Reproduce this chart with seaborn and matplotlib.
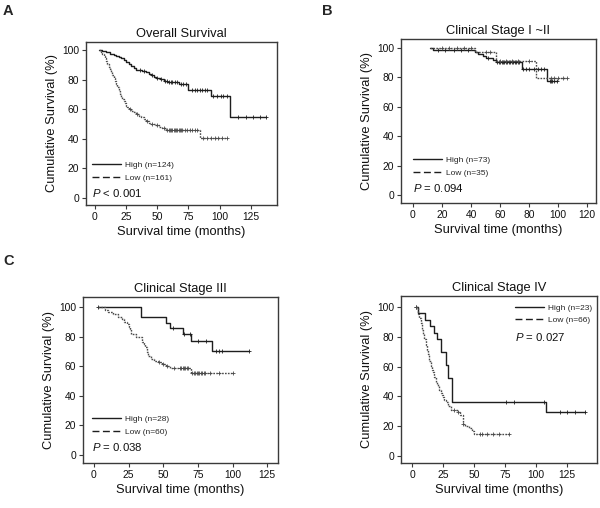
import numpy as np
import matplotlib
matplotlib.use("Agg")
import matplotlib.pyplot as plt
import seaborn as sns
from matplotlib.lines import Line2D

sns.set_style("ticks")
plt.rcParams['font.family'] = ['Liberation Sans', 'DejaVu Sans']
plt.rcParams['mathtext.fontset'] = 'custom'
plt.rcParams['mathtext.it'] = 'Liberation Sans:italic'
plt.rcParams['mathtext.rm'] = 'Liberation Sans'

# ---------------- data ----------------
# Panel A: Overall survival
A_high_t = [3, 6, 9, 12, 15, 17, 19, 21, 23, 25, 27, 29, 31, 33, 38, 41, 43, 45, 47, 49, 52, 55, 58, 67, 75, 93, 108]
A_high_s = [100, 99.2, 98.4, 97.6, 96.8, 96.0, 95.2, 94.3, 93.5, 92.0, 90.5, 89.0, 87.6, 86.5, 85.7, 84.8, 83.9, 82.9,
            81.9, 81.0, 80.1, 79.2, 78.3, 77.3, 73.0, 68.6, 55.0]
A_high_end = 137
A_high_cens = [36, 39, 46, 50, 53, 56, 57.5, 59, 61, 62, 64, 66, 69, 71, 73, 78, 80, 82, 84, 86, 88, 90, 95, 98, 101,
               103, 106, 115, 121, 127, 132, 137]
A_low_t = [3, 5, 6, 7, 8, 9, 10, 11, 12, 13, 14, 15, 16, 17, 18, 19, 20, 21, 22, 23, 24, 25, 26, 27, 29, 31, 33, 35,
           37, 39, 41, 43, 45, 48, 51, 54, 57, 84]
A_low_s = [100, 98.8, 97.5, 96.0, 94.4, 92.5, 90.6, 88.8, 86.9, 85.0, 83.0, 81.0, 79.0, 77.0, 75.0, 72.5, 70.5, 68.5,
           67.0, 65.5, 64.0, 62.5, 61.2, 60.0, 59.0, 58.0, 57.0, 55.7, 54.5, 53.3, 52.2, 51.0, 50.0, 49.0, 48.0, 47.0,
           46.0, 40.5]
A_low_end = 106
A_low_cens = [28, 34, 42, 46, 50, 55, 58, 59, 60, 61, 62, 63, 64, 65, 66, 67, 68, 69, 70, 72, 74, 76, 78, 80, 82, 87,
              90, 93, 96, 99, 102, 106]

# Panel B: Clinical stage I-II
B_high_t = [12, 14, 43, 45, 48, 50, 55, 57, 75, 92]
B_high_s = [100, 98.6, 97.2, 95.7, 94.2, 93.2, 91.8, 90.5, 85.3, 77.6]
B_high_end = 99
B_high_cens = [17, 22, 28, 33, 38, 52, 58, 59, 60, 61, 62, 63, 64, 65, 66, 67, 68, 69, 70, 71, 72, 73, 76, 78, 80,
               83, 86, 88, 90, 94, 95, 96, 97, 99]
B_low_t = [12, 43, 57, 85]
B_low_s = [100, 97.1, 91.0, 79.3]
B_low_end = 106
B_low_cens = [20, 25, 30, 35, 40, 50, 53, 60, 64, 68, 72, 80, 95, 97, 100, 103, 106]

# Panel C: Clinical stage III
C_high_t = [3, 34, 52, 55, 64, 70, 85]
C_high_s = [100, 93.0, 89.5, 86.0, 82.0, 77.0, 70.0]
C_high_end = 112
C_high_cens = [3, 57, 65, 69, 75, 81, 88, 90, 92, 112]
C_low_t = [3, 8, 10, 14, 17, 20, 22, 24, 25, 26, 27, 30, 35, 36, 37, 38, 39, 41, 43, 46, 49, 52, 55, 60, 70]
C_low_s = [100, 98.3, 96.7, 95.0, 93.3, 91.6, 90.0, 88.3, 86.6, 84.9, 81.6, 79.9, 76.6, 74.9, 73.2, 69.9, 66.6, 65.0,
           63.8, 62.6, 61.4, 60.2, 59.0, 58.5, 55.7]
C_low_end = 100
C_low_cens = [47, 50, 53, 58, 62, 63, 64, 65, 66, 67, 68, 71, 72, 73, 74, 75, 76, 77, 78, 79, 80, 84, 90, 100]

# Panel D: Clinical stage IV
D_high_t = [3, 5, 10.5, 14.5, 18, 20, 23, 27, 29, 32, 108]
D_high_s = [100, 95.7, 91.3, 87.0, 82.6, 78.3, 69.6, 60.9, 52.2, 36.5, 29.2]
D_high_end = 139
D_high_cens = [3, 76, 82, 106, 119, 125, 131, 139]
D_low_t = [3, 5, 6, 7, 8, 9, 10, 11, 12, 13, 14, 15, 16, 17, 18, 19, 20, 21, 22, 23, 24, 25, 26, 27, 29, 31, 37, 39,
           41, 43, 46, 48, 50]
D_low_s = [100, 95.5, 92.4, 89.4, 84.8, 81.8, 78.8, 74.2, 71.2, 68.2, 63.6, 60.6, 57.6, 56.1, 53.0, 50.0, 48.5, 47.0,
           44.0, 42.4, 40.9, 39.4, 37.9, 36.4, 33.3, 31.0, 29.5, 27.6, 21.5, 20.0, 18.5, 17.0, 15.0]
D_low_end = 78
D_low_cens = [3, 34, 37, 41, 55, 56, 60, 65, 70, 78]

titles = ["Overall Survival", "Clinical Stage I ~II", "Clinical Stage III", "Clinical Stage IV"]
labels_high = ["High (n=124)", "High (n=73)", "High (n=28)", "High (n=23)"]
labels_low = ["Low (n=161)", "Low (n=35)", "Low (n=60)", "Low (n=66)"]
p_texts = [r"$P$ < 0.001", r"$P$ = 0.094", r"$P$ = 0.038", r"$P$ = 0.027"]
panel_letters = ["A", "B", "C", None]
x_ticks = [[0, 25, 50, 75, 100, 125], [0, 20, 40, 60, 80, 100, 120],
           [0, 25, 50, 75, 100, 125], [0, 25, 50, 75, 100, 125]]
y_ticks = [0, 20, 40, 60, 80, 100]

series = [
    (A_high_t, A_high_s, A_high_end, A_high_cens, A_low_t, A_low_s, A_low_end, A_low_cens),
    (B_high_t, B_high_s, B_high_end, B_high_cens, B_low_t, B_low_s, B_low_end, B_low_cens),
    (C_high_t, C_high_s, C_high_end, C_high_cens, C_low_t, C_low_s, C_low_end, C_low_cens),
    (D_high_t, D_high_s, D_high_end, D_high_cens, D_low_t, D_low_s, D_low_end, D_low_cens),
]

# ---------------- layout ----------------
W, H = 600, 508
fig = plt.figure(figsize=(W / 100, H / 100), dpi=100)

# axes boxes in pixels: left, right, top, bottom
boxes = [(86, 277, 42, 205), (401, 596, 39, 203), (83, 278, 297, 463), (401, 597, 296, 463)]
xlims = [(-7.2, 146), (-8.2, 126), (-7.9, 132.7), (-8.9, 149)]
ylims = [(-4.7, 105.4), (-5.4, 106), (-5.4, 106.8), (-4.7, 107.4)]
# legend anchor (axes fraction): x of line start, y of midpoint between rows; P text position
leg_pos = [(0.031, 0.205), (0.06, 0.222), (0.046, 0.226), (0.582, 0.892)]
p_pos = [(0.031, 0.074), (0.06, 0.093), (0.046, 0.098), (0.58, 0.753)]
letter_pos = [(3, 4), (322, 4), (3, 254), None]

HIGH_C = "#1e1e1e"
LOW_C = "#4a4a4a"
SPINE_C = "#3a3a3a"


def step_values(t, s, c):
    idx = np.searchsorted(np.asarray(t), np.asarray(c), side="right") - 1
    idx = np.clip(idx, 0, len(s) - 1)
    return np.asarray(s)[idx]


for i, (l, r, t, b) in enumerate(boxes):
    ax = fig.add_axes([l / W, 1 - b / H, (r - l) / W, (b - t) / H])
    ht, hs, hend, hc, lt, ls_, lend, lc = series[i]

    # high group (solid)
    hx = list(ht) + [hend]
    hy = list(hs) + [hs[-1]]
    sns.lineplot(x=hx, y=hy, ax=ax, estimator=None, sort=False, drawstyle="steps-post",
                 color=HIGH_C, linewidth=1.0)
    ax.plot(hc, step_values(ht, hs, hc), linestyle="none", marker="+", ms=3.5, mew=0.6, color=HIGH_C)

    # low group (dotted)
    lx = list(lt) + [lend]
    ly = list(ls_) + [ls_[-1]]
    sns.lineplot(x=lx, y=ly, ax=ax, estimator=None, sort=False, drawstyle="steps-post",
                 color=LOW_C, linewidth=1.0, linestyle=(0, (1.2, 0.9)))
    ax.plot(lc, step_values(lt, ls_, lc), linestyle="none", marker="+", ms=3.5, mew=0.6, color=LOW_C)

    ax.set_xlim(*xlims[i])
    ax.set_ylim(*ylims[i])
    ax.set_xticks(x_ticks[i])
    ax.set_yticks(y_ticks)
    ax.tick_params(axis="both", labelsize=7.4, length=3, width=0.8, pad=2, colors="#111111",
                   color=SPINE_C)
    for sp in ax.spines.values():
        sp.set_visible(True)
        sp.set_color(SPINE_C)
        sp.set_linewidth(1.0)
    ax.set_title(titles[i], fontsize=9.3, pad=3.5, color="#111111")
    ax.set_xlabel("Survival time (months)", fontsize=9.3, labelpad=3, color="#111111")
    ax.set_ylabel("Cumulative Survival (%)", fontsize=9.3, labelpad=3, color="#111111")

    handles = [Line2D([], [], color=HIGH_C, lw=1.0),
                Line2D([], [], color=HIGH_C, lw=1.0, linestyle=(0, (5, 2.5)))]
    ax.legend(handles, [labels_high[i], labels_low[i]], loc="center left",
              bbox_to_anchor=leg_pos[i], frameon=False, fontsize=6, handlelength=3.5,
              handletextpad=0.5, labelspacing=0.6, borderpad=0, borderaxespad=0)
    ax.text(p_pos[i][0], p_pos[i][1], p_texts[i], transform=ax.transAxes, fontsize=8.2,
            ha="left", va="center", color="#111111")

    if panel_letters[i] is not None:
        px, py = letter_pos[i]
        fig.text(px / W, 1 - py / H, panel_letters[i], fontsize=10.5, fontweight="bold",
                 ha="left", va="top")

fig.savefig("out.png", dpi=100)
